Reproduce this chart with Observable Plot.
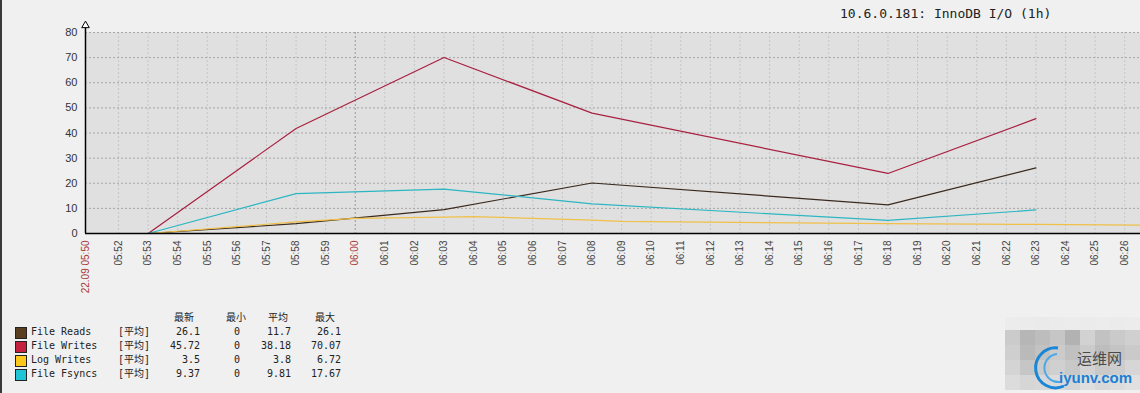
<!DOCTYPE html>
<html><head><meta charset="utf-8">
<script src="https://cdn.jsdelivr.net/npm/d3@7"></script>
<script src="https://cdn.jsdelivr.net/npm/@observablehq/plot@0.6"></script>
<style>
body{margin:0;background:#f0f0f0;}
#wrap{position:relative;width:1140px;height:393px;overflow:hidden;background:#f0f0f0;}
#wrap svg{position:absolute;left:0;top:0;}
#border{position:absolute;left:0;top:0;width:2px;height:393px;background:#3a3a3a;}
#title{position:absolute;left:840px;top:6px;font:13px "DejaVu Sans Mono","Noto Sans CJK SC",monospace;color:#222;white-space:pre;}
.lg{position:absolute;font:10px "DejaVu Sans Mono","Noto Sans CJK SC",monospace;color:#222;white-space:pre;line-height:14px;}
.sq{position:absolute;width:10px;height:10px;border:1px solid #222;}
.mz{position:absolute;width:15px;height:15px;}
</style></head><body><div id="wrap"><div id="border"></div></div>
<script>
// ---- data ----
const t = (h, m, s = 0) => new Date(2023, 8, 22, h, m, s);
const seriesNames = ["File Reads", "File Writes", "Log Writes", "File Fsyncs"];
const lineColors = ["#3a2a1e", "#a82040", "#f0c048", "#2cb6c2"];
const legendColors = ["#5a3e20", "#c4203f", "#fcc81c", "#20c4d4"];
const rangeStart = t(5, 50, 53), rangeEnd = t(6, 26, 32);
const mainTimes = [t(5,50,53), t(5,53), t(5,58), t(6,3), t(6,8), t(6,18), t(6,23)];
const fileReads  = [0, 0, 3.9, 9.5, 20.1, 11.4, 26.1];
const fileWrites = [0, 0, 41.8, 70.07, 47.9, 23.9, 45.72];
const fileFsyncs = [0, 0, 15.9, 17.67, 11.8, 5.2, 9.37];
const logTimes   = [t(5,50,53), t(5,53), t(5,58), t(6,0), t(6,3), t(6,4), t(6,8), t(6,9), t(6,18), t(6,23), t(6,26,32)];
const logWrites  = [0, 0, 4.6, 6.0, 6.5, 6.72, 5.3, 4.8, 3.9, 3.6, 3.3];
const yTicks = [0, 10, 20, 30, 40, 50, 60, 70, 80];
const minuteTicks = d3.timeMinute.range(t(5,52), t(6,27));
const startLabel = "22.09 05:50";
const legendHeaders = ["最新", "最小", "平均", "最大"];
const legendFunc = "[平均]";
const lastVals = ["26.1", "45.72", "3.5", "9.37"];
const minVals  = ["0", "0", "0", "0"];
const avgVals  = ["11.7", "38.18", "3.8", "9.81"];
const maxVals  = ["26.1", "70.07", "6.72", "17.67"];
const titleText = "10.6.0.181: InnoDB I/O (1h)";

const rows = [];
const addSeries = (name, times, vals) => times.forEach((d, i) => rows.push({series: name, time: d, value: vals[i]}));
addSeries("File Reads", mainTimes, fileReads);
addSeries("File Writes", mainTimes, fileWrites);
addSeries("Log Writes", logTimes, logWrites);
addSeries("File Fsyncs", mainTimes, fileFsyncs);

const fmt = d3.timeFormat("%H:%M");
const isSix = d => +d === +t(6,0);

const chart = Plot.plot({
  width: 1140, height: 310,
  marginLeft: 85, marginRight: 0, marginTop: 32, marginBottom: 77,
  x: {type: "time", domain: [rangeStart, rangeEnd], axis: null},
  y: {domain: [0, 80], axis: null},
  color: {domain: seriesNames, range: lineColors},
  style: {background: "transparent", overflow: "visible"},
  marks: [
    Plot.frame({fill: "#e0e0e0", stroke: null}),
    Plot.ruleX(minuteTicks, {x: d => d, stroke: d => isSix(d) ? "#9a9a9a" : "#c6c6c6", strokeDasharray: "2,2"}),
    Plot.ruleY(yTicks.filter(d => d > 0), {y: d => d, stroke: "#a6a6a6", strokeDasharray: "2,2"}),
    Plot.line(rows, {x: "time", y: "value", z: "series", stroke: "series", strokeWidth: 1.2}),
    Plot.ruleY([0], {stroke: "black", strokeWidth: 1.5}),
    Plot.ruleX([rangeStart], {x: d => d, y1: 0, y2: 82.5, stroke: "black", strokeWidth: 1.5}),
    Plot.dot([rangeStart], {x: d => d, y: () => 82.8, symbol: "triangle", r: 2.8, fill: "white", stroke: "black", strokeWidth: 1}),
    Plot.text(yTicks, {x: () => rangeStart, y: d => d, text: d => String(d), textAnchor: "end", dx: -8, fontSize: 11, fill: "#333", fontFamily: "Liberation Sans"}),
    Plot.text(minuteTicks, {x: d => d, y: () => 0, text: d => fmt(d), rotate: -90, textAnchor: "end", lineAnchor: "middle", dy: 7, fontSize: 10, fontFamily: "Liberation Sans", fill: d => isSix(d) ? "#a83a3a" : "#444"}),
    Plot.text([rangeStart], {x: d => d, y: () => 0, text: () => startLabel, rotate: -90, textAnchor: "end", lineAnchor: "middle", dy: 7, fontSize: 10, fontFamily: "Liberation Sans", fill: "#a83a3a"})
  ]
});
const wrap = document.getElementById("wrap");
wrap.appendChild(chart);

// title
const ti = document.createElement("div"); ti.id = "title"; ti.textContent = titleText; wrap.appendChild(ti);

// legend
function addText(txt, left, top, align) {
  const s = document.createElement("div"); s.className = "lg"; s.textContent = txt;
  s.style.top = top + "px";
  if (align === "right") { s.style.right = (1140 - left) + "px"; }
  else if (align === "center") { s.style.left = (left - 30) + "px"; s.style.width = "60px"; s.style.textAlign = "center"; }
  else s.style.left = left + "px";
  wrap.appendChild(s);
}
const hdrX = [184, 236, 278, 325];
legendHeaders.forEach((h, i) => addText(h, hdrX[i], 311, "center"));
seriesNames.forEach((n, i) => {
  const top = 325 + 14 * i;
  const sq = document.createElement("div"); sq.className = "sq";
  sq.style.left = "15px"; sq.style.top = (top + 2) + "px"; sq.style.background = legendColors[i];
  wrap.appendChild(sq);
  addText(n, 31, top);
  addText(legendFunc, 118, top);
  addText(lastVals[i], 200, top, "right");
  addText(minVals[i], 240, top, "right");
  addText(avgVals[i], 291, top, "right");
  addText(maxVals[i], 341, top, "right");
});

// watermark mosaic (decoration)
const mosaic = [
  ["#ececec","#ebebeb","#eaeaea","#ebebeb","#ececec","#ebebeb","#ececec","#ebebeb","#ececec","#ececec"],
  ["#cbcbcb","#b6b6b6","#bdbdbd","#c6c6c6","#b2b2b2","#d2d2d2","#c2c2c2","#cacaca","#d0d0d0","#cdcdcd"],
  ["#cfcfcf","#bababa","#c2c2c2","#cbcbcb","#c0c0c0","#cbcbcb","#bdbdbd","#c4c4c4","#cacaca","#d4d4d4"],
  ["#d4d4d4","#c6c6c6","#cbcbcb","#d0d0d0","#c8c8c8","#d3d3d3","#c9c9c9","#cdcdcd","#d6d6d6","#d8d8d8"],
  ["#dcdcdc","#d6d6d6","#d8d8d8","#dbdbdb","#d5d5d5","#dedede","#d8d8d8","#dcdcdc","#e0e0e0","#e2e2e2"]
];
mosaic.forEach((row, r) => row.forEach((c, k) => {
  const b = document.createElement("div"); b.className = "mz";
  b.style.left = (1005 + 15 * k) + "px"; b.style.top = (317 + (r === 0 ? 0 : 13 + 15 * (r - 1))) + "px";
  if (r === 0) b.style.height = "13px";
  b.style.background = c; wrap.appendChild(b);
}));
const logo = document.createElementNS("http://www.w3.org/2000/svg", "svg");
logo.setAttribute("width", "40"); logo.setAttribute("height", "50");
logo.style.left = "1030px"; logo.style.top = "342px";
logo.innerHTML = '<path d="M28 6 A20 20 0 1 0 34 44" fill="none" stroke="#1a86d6" stroke-width="3"/><path d="M27 12 A14 14 0 1 0 30 40" fill="none" stroke="#4aa8e8" stroke-width="2"/>';
wrap.appendChild(logo);
const w1 = document.createElement("div");
w1.style.cssText = 'position:absolute;left:1077px;top:350px;font:15px/16px "Noto Sans CJK SC";color:#4a4a4a;white-space:nowrap;';
w1.textContent = "运维网"; wrap.appendChild(w1);
const w2 = document.createElement("div");
w2.style.cssText = 'position:absolute;left:1059px;top:369px;font:bold 15px/17px "Liberation Sans";color:#1a7fd4;white-space:nowrap;';
w2.textContent = "iyunv.com"; wrap.appendChild(w2);
</script>
</body></html>
